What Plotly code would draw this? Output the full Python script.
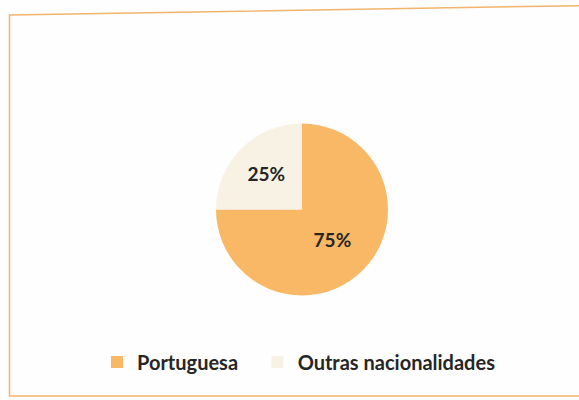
import plotly.graph_objects as go

labels = ["Portuguesa", "Outras nacionalidades"]
shares = [75, 25]
colors = ["#F8B865", "#F7F2E4"]

W, H = 579, 400


def px(x):
    return x / W


def py(y):
    return 1 - y / H


# pad the first legend entry so the second one sits further right, as in the original
legend_labels = [labels[0] + "\u00a0\u00a0\u00a0", labels[1]]

fig = go.Figure()
fig.add_trace(
    go.Pie(
        labels=legend_labels,
        values=shares,
        marker=dict(colors=colors, line=dict(width=0)),
        sort=False,
        direction="clockwise",
        rotation=0,
        textinfo="percent",
        texttemplate="%{percent:.0%}",
        textposition="inside",
        insidetextorientation="horizontal",
        textfont=dict(family="Lato, Open Sans, sans-serif", size=19, color="#262626", weight="bold"),
        domain=dict(x=[px(216), px(388)], y=[py(296), py(123)]),
        hoverinfo="label+percent",
    )
)

# orange frame around the chart area (slightly skewed as in the scan)
fig.add_shape(
    type="path",
    xref="paper",
    yref="paper",
    path=f"M {px(9.5)},{py(15)} L 1.02,{py(5.5)} L 1.02,{py(396)} L {px(9.5)},{py(396)} Z",
    line=dict(color="#F3B36A", width=1.5),
)

fig.update_layout(
    width=W,
    height=H,
    margin=dict(l=0, r=0, t=0, b=0, autoexpand=False),
    paper_bgcolor="#FEFEFE",
    plot_bgcolor="#FEFEFE",
    showlegend=True,
    legend=dict(
        orientation="h",
        x=px(97),
        xanchor="left",
        y=py(362),
        yanchor="middle",
        font=dict(family="Lato, Open Sans, sans-serif", size=20, color="#262626", weight="bold"),
        itemwidth=30,
        tracegroupgap=0,
    ),
)

# the page body would otherwise keep its default 8px margin
fig.write_html(
    "out.html",
    config={"displayModeBar": False},
    post_script="document.body.style.margin='0';",
)
